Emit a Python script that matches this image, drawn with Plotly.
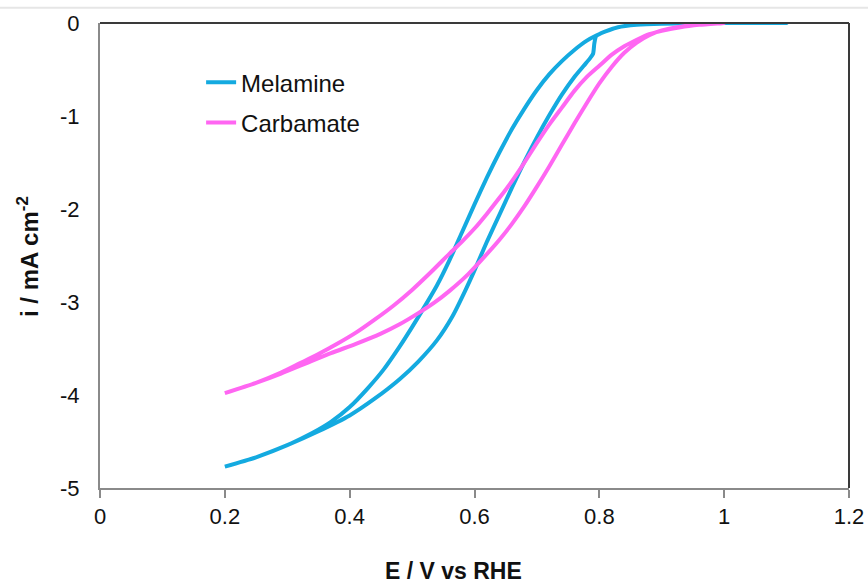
import plotly.graph_objects as go

# Melamine: potential (V vs RHE) and current density (mA cm-2), one closed scan loop
mel_E = [0.20, 0.25, 0.30, 0.35, 0.40, 0.44, 0.48, 0.51, 0.54, 0.565, 0.585, 0.60, 0.62, 0.64, 0.66,
         0.68, 0.70, 0.72, 0.74, 0.76, 0.775, 0.785, 0.79, 0.792, 0.795,
         0.81, 0.83, 0.86, 0.90, 0.95, 1.00, 1.10,
         1.00, 0.95, 0.90, 0.86, 0.83, 0.81, 0.795, 0.78, 0.76, 0.74, 0.72, 0.70, 0.68, 0.66, 0.64,
         0.62, 0.60, 0.58, 0.56, 0.54, 0.52, 0.50, 0.48, 0.454, 0.43, 0.40, 0.37, 0.34, 0.30, 0.25, 0.20]
mel_i = [-4.77, -4.67, -4.54, -4.39, -4.22, -4.04, -3.83, -3.64, -3.41, -3.15, -2.88, -2.66, -2.35, -2.06, -1.77,
         -1.49, -1.23, -0.99, -0.77, -0.58, -0.46, -0.38, -0.33, -0.22, -0.14,
         -0.09, -0.045, -0.02, -0.008, -0.003, 0.0, 0.0,
         0.0, -0.003, -0.008, -0.02, -0.045, -0.09, -0.135, -0.19, -0.29, -0.41, -0.55, -0.72, -0.92, -1.14, -1.39,
         -1.66, -1.95, -2.25, -2.55, -2.82, -3.05, -3.27, -3.48, -3.73, -3.92, -4.13, -4.29, -4.41, -4.54, -4.67, -4.77]

# Carbamate
carb_E = [0.20, 0.25, 0.29, 0.33, 0.37, 0.41, 0.45, 0.48, 0.51, 0.535, 0.56, 0.59, 0.615, 0.64, 0.66,
          0.68, 0.70, 0.72, 0.74, 0.76, 0.78, 0.80, 0.82, 0.84, 0.86, 0.88, 0.90, 0.93, 0.96, 1.00,
          0.96, 0.93, 0.90, 0.88, 0.86, 0.84, 0.82, 0.80, 0.78, 0.76, 0.74, 0.72, 0.70, 0.68, 0.66,
          0.64, 0.62, 0.60, 0.58, 0.56, 0.53, 0.50, 0.47, 0.44, 0.41, 0.38, 0.35, 0.32, 0.29, 0.25, 0.20]
carb_i = [-3.98, -3.87, -3.77, -3.66, -3.55, -3.45, -3.34, -3.24, -3.12, -3.01, -2.88, -2.70, -2.52, -2.33, -2.16,
          -1.97, -1.76, -1.54, -1.31, -1.08, -0.86, -0.65, -0.47, -0.32, -0.21, -0.13, -0.08, -0.04, -0.015, 0.0,
          -0.02, -0.045, -0.085, -0.12, -0.18, -0.25, -0.34, -0.46, -0.58, -0.73, -0.91, -1.09, -1.29, -1.50, -1.70,
          -1.88, -2.05, -2.21, -2.35, -2.48, -2.68, -2.87, -3.04, -3.19, -3.33, -3.45, -3.56, -3.66, -3.76, -3.87, -3.98]

x_ticks = [0, 0.2, 0.4, 0.6, 0.8, 1, 1.2]
x_tick_text = ["0", "0.2", "0.4", "0.6", "0.8", "1", "1.2"]
y_ticks = [0, -1, -2, -3, -4, -5]
y_tick_text = ["0", "-1", "-2", "-3", "-4", "-5"]

FONT = "Arial, 'Liberation Sans', sans-serif"

fig = go.Figure()
fig.add_trace(go.Scatter(x=mel_E, y=mel_i, mode="lines", name="Melamine", legendgroup="a",
                         line=dict(color="#14AAE0", width=4, shape="spline", smoothing=0.6)))
fig.add_trace(go.Scatter(x=carb_E, y=carb_i, mode="lines", name="Carbamate", legendgroup="b",
                         line=dict(color="#FF66F2", width=4, shape="spline", smoothing=0.6)))

fig.update_layout(
    width=868, height=583,
    margin=dict(l=100, r=19, t=23, b=95),
    paper_bgcolor="white", plot_bgcolor="white",
    font=dict(family=FONT, size=22, color="#111111"),
    showlegend=True,
    legend=dict(x=0.135, y=0.92, xanchor="left", yanchor="top", bgcolor="rgba(0,0,0,0)",
                font=dict(size=24, color="#111111"), tracegroupgap=6, itemwidth=30),
    xaxis=dict(range=[0, 1.2], tickvals=x_ticks, ticktext=x_tick_text, showgrid=False, zeroline=False,
               showline=True, linecolor="#8a8a8a", linewidth=2, ticks="outside", ticklen=8,
               tickcolor="#8a8a8a", tickwidth=1.5, tickfont=dict(size=22), fixedrange=True,
               automargin=False),
    yaxis=dict(range=[-5, 0], tickvals=y_ticks, ticktext=y_tick_text, showgrid=False, zeroline=False,
               showline=True, linecolor="#8a8a8a", linewidth=2, ticks="", tickfont=dict(size=22),
               ticklabelstandoff=14, fixedrange=True, automargin=False),
    shapes=[
        dict(type="line", xref="paper", yref="paper", x0=0, x1=1, y0=1, y1=1,
             line=dict(color="#3a3a3a", width=2)),
        dict(type="line", xref="paper", yref="paper", x0=1, x1=1, y0=0, y1=1,
             line=dict(color="#3a3a3a", width=2)),
        dict(type="line", xref="paper", yref="paper", x0=-0.2, x1=1.1, y0=1.033, y1=1.033,
             line=dict(color="#e6e6e6", width=2)),
    ],
    annotations=[
        dict(text="<b>E / V vs RHE</b>", xref="paper", yref="paper", x=0.4726, y=-0.178,
             showarrow=False, font=dict(size=23, color="#111111"), xanchor="center", yanchor="middle"),
        dict(text="<b>i / mA cm<sup>-2</sup></b>", xref="paper", yref="paper", x=-0.0961, y=0.4968,
             showarrow=False, textangle=-90, font=dict(size=24, color="#111111"),
             xanchor="center", yanchor="middle"),
    ],
)

fig.write_html("out.html")
